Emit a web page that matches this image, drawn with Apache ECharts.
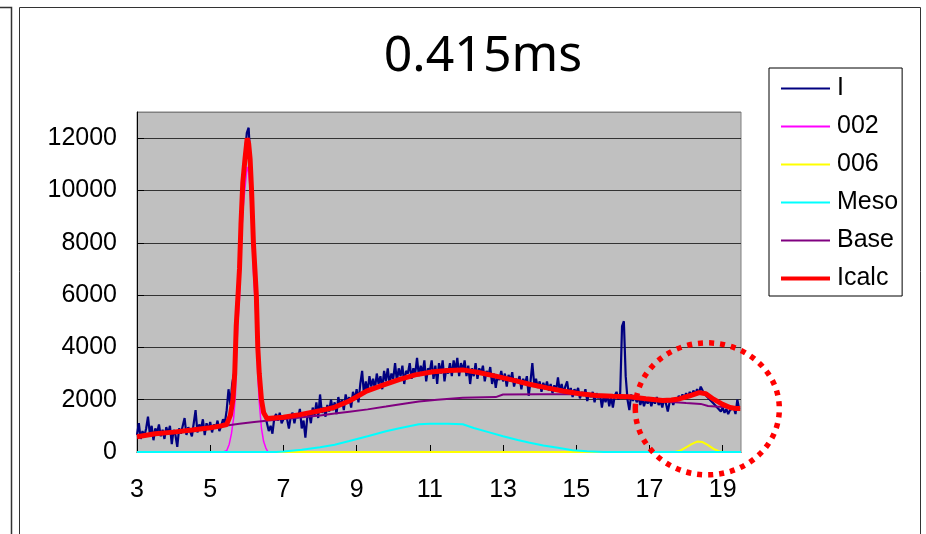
<!DOCTYPE html>
<html>
<head>
<meta charset="utf-8">
<title>0.415ms</title>
<script src="https://cdn.jsdelivr.net/npm/echarts/dist/echarts.min.js"></script>
<style>
  html, body { margin: 0; padding: 0; background: #fff; }
  #chart { width: 926px; height: 534px; }
</style>
</head>
<body>
<div id="chart"></div>
<script>
// measured intensity I, one value every 0.05 from x = 3.00
const xStart = 3
const xStep = 0.05
const iValues = [
  650, 1100, 500, 800, 600, 900, 1350, 700, 1000, 450, 900, 750, 1050, 600, 850, 500, 950, 700, 1000, 300,
  850, 650, 200, 900, 700, 1000, 1300, 650, 950, 800, 600, 1100, 1600, 750, 1050, 900, 1250, 650, 1100, 850,
  1150, 750, 1050, 900, 1200, 800, 1000, 1250, 1100, 1600, 2400, 1800, 2600, 3000, 4800, 6200, 7100, 8800, 10500, 11400,
  12200, 12400, 11000, 9200, 7800, 6100, 4300, 3100, 2000, 1600, 1400, 1100, 800, 1000, 700, 1300, 1450, 1200, 1500, 1100,
  1150, 1400, 1250, 900, 1350, 1500, 1100, 1450, 1300, 1650, 900, 1200, 550, 1300, 1500, 1100, 1700, 1400, 1900, 1300,
  2200, 1500, 1700, 1350, 1800, 1550, 2000, 1600, 1900, 1450, 2100, 1750, 2000, 1600, 2200, 1900, 2100, 1700, 2300, 2000,
  2400, 1900, 2600, 3100, 2200, 2700, 2300, 2900, 2500, 2800, 2400, 3000, 2600, 2900, 2400, 3100, 2700, 3200, 2600, 3000,
  2800, 3400, 2700, 3200, 2900, 3300, 2600, 3100, 3000, 3400, 2800, 3200, 3000, 3600, 2900, 3300, 3000, 3500, 2700, 3200,
  3100, 3500, 2800, 3300, 2600, 3400, 3000, 3500, 2700, 3200, 3000, 3400, 2900, 3500, 3100, 3600, 2900, 3400, 3100, 3500,
  2900, 3300, 2600, 3200, 2900, 3400, 2800, 3200, 3000, 3300, 2700, 3100, 2900, 3250, 2600, 3000, 2450, 2900, 2750, 3100,
  2700, 3000, 2500, 2950, 2700, 3050, 2500, 2800, 2650, 2900, 2400, 2800, 2600, 2900, 2150, 2700, 3400, 2600, 2800, 2450,
  2700, 2300, 2650, 2400, 2700, 2350, 2600, 2250, 2550, 2350, 2850, 2300, 2600, 2250, 2500, 2700, 2200, 2450, 2100, 2400,
  2250, 2450, 2050, 2300, 2150, 2400, 1950, 2250, 2100, 2300, 1900, 2250, 2050, 2200, 1700, 2150, 1900, 2200, 1750, 2100,
  1700, 2150, 2300, 2000, 2250, 4800, 5000, 2900, 2000, 1600, 2200, 1950, 2150, 1900, 2100, 1800, 2050, 1750, 2000, 1850,
  2050, 1750, 2000, 1850, 2100, 1800, 1950, 1700, 2050, 1850, 1550, 1900, 2000, 1800, 2050, 1950, 2150, 2000, 2200, 2050,
  2250, 2100, 2300, 2150, 2350, 2200, 2400, 2250, 2500, 2350, 2300, 2150, 2200, 2000, 2050, 1850, 1900, 1700, 1750, 1550,
  1700, 1500, 1650, 1450, 1600, 1550, 1700, 1450, 2000, 1650
]

// fitted components, [x, y]
const peak002 = [
  [3, 0], [5.35, 0], [5.45, 50], [5.52, 300], [5.58, 700], [5.64, 1300], [5.69, 2200], [5.72, 3800],
  [5.76, 5000], [5.8, 5900], [5.84, 7600], [5.89, 9200], [5.95, 10100], [6.01, 10900], [6.05, 10700],
  [6.09, 10100], [6.13, 8900], [6.18, 6900], [6.22, 5900], [6.26, 4900], [6.3, 2900], [6.34, 1900],
  [6.4, 900], [6.46, 400], [6.52, 150], [6.58, 0], [19.5, 0]
]
const peak006 = [
  [3, 0], [17.7, 0], [17.85, 60], [18.0, 180], [18.15, 300], [18.3, 400], [18.45, 380],
  [18.6, 260], [18.75, 120], [18.9, 30], [19.0, 0], [19.5, 0]
]
const meso = [
  [3, 0], [6.8, 0], [7.0, 20], [7.5, 90], [8.0, 180], [8.4, 280], [8.8, 420], [9.3, 600], [9.8, 790],
  [10.2, 920], [10.7, 1060], [11.0, 1080], [11.5, 1080], [11.9, 1060], [12.2, 920], [12.6, 760],
  [13.0, 600], [13.4, 460], [13.7, 360], [14.1, 250], [14.5, 160], [14.9, 70], [15.3, 30], [15.75, 0], [19.5, 0]
]
const base = [
  [3, 560], [3.5, 660], [4, 740], [4.5, 820], [5, 900], [5.4, 1000], [5.8, 1080], [6.2, 1150], [6.6, 1200],
  [7.0, 1260], [7.5, 1330], [8.0, 1400], [8.4, 1470], [8.8, 1540], [9.3, 1630], [9.8, 1740], [10.2, 1830],
  [10.7, 1930], [11.2, 2000], [11.9, 2070], [12.8, 2100], [13.0, 2200], [14.0, 2210], [15.0, 2210],
  [15.5, 2200], [16.0, 2150], [16.5, 2100], [17.0, 2000], [17.5, 1920], [18.0, 1870], [18.4, 1840],
  [18.6, 1760], [19.0, 1720], [19.45, 1700]
]
const icalc = [
  [3.0, 580], [3.5, 700], [4.0, 760], [4.5, 840], [5.0, 930], [5.3, 1000], [5.45, 1050], [5.55, 1400],
  [5.62, 2000], [5.67, 3000], [5.71, 4800], [5.76, 6000], [5.8, 7000], [5.84, 8700], [5.89, 10300],
  [5.95, 11200], [6.01, 12000], [6.05, 11800], [6.09, 11200], [6.13, 10000], [6.18, 8000], [6.22, 7000],
  [6.26, 6000], [6.3, 4000], [6.34, 3000], [6.4, 2000], [6.46, 1500], [6.55, 1280], [7.0, 1330],
  [7.45, 1430], [8.0, 1580], [8.36, 1690], [8.8, 1950], [9.27, 2330], [9.7, 2550], [10.18, 2780],
  [10.6, 2950], [11.09, 3070], [11.5, 3120], [11.9, 3140], [12.3, 3050], [12.8, 2900], [13.3, 2740],
  [13.72, 2590], [14.2, 2450], [14.63, 2330], [15.1, 2230], [15.54, 2160], [16.0, 2130], [16.45, 2110],
  [16.9, 2040], [17.36, 1970], [17.6, 1990], [17.81, 2030], [18.1, 2150], [18.36, 2270], [18.54, 2230],
  [18.75, 2020], [19.0, 1820], [19.2, 1700], [19.36, 1660], [19.48, 1660]
]

// region marked with the dotted circle
const markCenter = [18.58, 1650]

const chart = echarts.init(document.getElementById('chart'), null, { renderer: 'canvas' })

const iData = iValues.map((v, k) => [+(xStart + k * xStep).toFixed(2), v])
const axisFont = { fontFamily: 'Liberation Sans', fontSize: 25, color: '#000' }

function lineSeries (name, data, color, width) {
  return {
    name: name,
    type: 'line',
    data: data,
    symbol: 'none',
    animation: false,
    lineStyle: { color: color, width: width },
    itemStyle: { color: color }
  }
}

const option = {
  animation: false,
  backgroundColor: '#fff',
  title: {
    text: '0.415ms',
    left: 483,
    top: 32,
    padding: 0,
    textAlign: 'center',
    textStyle: {
      fontFamily: 'Noto Sans',
      fontSize: 50,
      fontWeight: 'normal',
      color: '#000'
    }
  },
  legend: {
    orient: 'vertical',
    left: 769,
    top: 68,
    padding: [8, 4, 5, 10],
    itemGap: 13,
    itemWidth: 49,
    itemHeight: 1,
    backgroundColor: '#fff',
    borderColor: '#000',
    borderWidth: 1,
    borderRadius: 0,
    textStyle: { fontFamily: 'Liberation Sans', fontSize: 25, color: '#000', padding: [0, 0, 0, 2] },
    data: [
      { name: 'I', lineStyle: { width: 2 } },
      { name: '002', lineStyle: { width: 2 } },
      { name: '006', lineStyle: { width: 2 } },
      { name: 'Meso', lineStyle: { width: 2 } },
      { name: 'Base', lineStyle: { width: 2 } },
      { name: 'Icalc', lineStyle: { width: 4 } }
    ]
  },
  grid: {
    left: 137,
    top: 112,
    right: 185,
    bottom: 82,
    show: true,
    backgroundColor: '#C0C0C0',
    borderColor: '#808080',
    borderWidth: 1
  },
  xAxis: {
    type: 'value',
    min: 3,
    max: 19.5,
    interval: 2,
    axisLine: { show: true, lineStyle: { color: '#000', width: 1 } },
    axisTick: { show: true, inside: true, length: 7, lineStyle: { color: '#000' } },
    axisLabel: Object.assign({ margin: 26, showMaxLabel: false }, axisFont),
    splitLine: { show: false }
  },
  yAxis: {
    type: 'value',
    min: 0,
    max: 13000,
    interval: 2000,
    axisLine: { show: true, lineStyle: { color: '#000', width: 1 } },
    axisTick: { show: true, inside: true, length: 7, lineStyle: { color: '#000' } },
    axisLabel: Object.assign({ margin: 20, showMaxLabel: false, formatter: v => String(v) }, axisFont),
    splitLine: {
      show: true,
      lineStyle: {
        color: ['#333', '#333', '#333', '#333', '#333', '#333', '#333', '#808080'],
        width: 1
      }
    }
  },
  series: [
    lineSeries('I', iData, '#000080', 2.2),
    lineSeries('002', peak002, '#FF00FF', 1.5),
    lineSeries('006', peak006, '#FFFF00', 2),
    lineSeries('Meso', meso, '#00FFFF', 2),
    lineSeries('Base', base, '#800080', 2),
    lineSeries('Icalc', icalc, '#FF0000', 5)
  ]
}

chart.setOption(option)

// frames and the dotted circle drawn on top
const c = chart.convertToPixel({ xAxisIndex: 0, yAxisIndex: 0 }, markCenter)
chart.setOption({
  graphic: [
    {
      type: 'polyline',
      silent: true,
      shape: { points: [[0, 7.5], [11.5, 7.5], [11.5, 540]] },
      style: { stroke: '#333', lineWidth: 1.5, fill: null }
    },
    {
      type: 'rect',
      silent: true,
      shape: { x: 19.5, y: 7.5, width: 901, height: 540 },
      style: { stroke: '#333', lineWidth: 1, fill: null }
    },
    {
      type: 'ellipse',
      silent: true,
      z: 100,
      shape: { cx: c[0], cy: c[1], rx: 72, ry: 66 },
      style: { stroke: '#FF0000', lineWidth: 5.5, lineDash: [5, 6], fill: null }
    }
  ]
})
</script>
</body>
</html>
